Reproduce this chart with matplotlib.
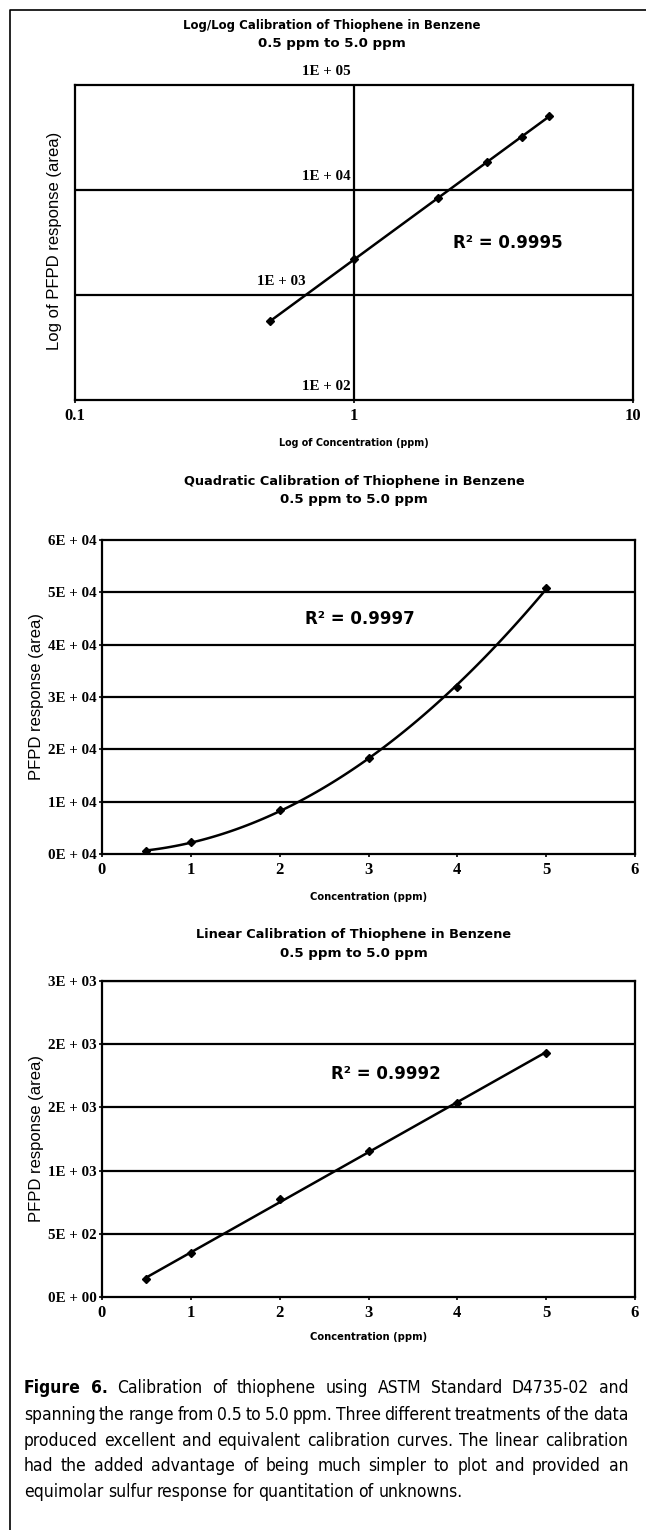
import numpy as np
import matplotlib.pyplot as plt
from matplotlib import font_manager
from matplotlib.lines import Line2D

# page size in pixels (saved at dpi=100)
W, H = 646, 1530

# thiophene standards (ppm) and PFPD peak areas
conc = [0.5, 1, 2, 3, 4, 5]
area_quad = [560, 2200, 8400, 18300, 32000, 50800]
area_log = [560, 2200, 8400, 18300, 32000, 50800]
area_lin = [142, 345, 775, 1155, 1535, 1930]

r2_log = 0.9995
r2_quad = 0.9997
r2_lin = 0.9992

log_xticks = [0.1, 1, 10]
log_xlabels = ["0.1", "1", "10"]
log_yvals = [1e2, 1e3, 1e4, 1e5]
log_ylabels = ["1E + 02", "1E + 03", "1E + 04", "1E + 05"]

quad_yticks = [0, 1e4, 2e4, 3e4, 4e4, 5e4, 6e4]
quad_ylabels = ["0E + 04", "1E + 04", "2E + 04", "3E + 04", "4E + 04", "5E + 04", "6E + 04"]

lin_yticks = [0, 500, 1000, 1500, 2000, 2500]
lin_ylabels = ["0E + 00", "5E + 02", "1E + 03", "2E + 03", "2E + 03", "3E + 03"]

lin_xticks = [0, 1, 2, 3, 4, 5, 6]

caption = [
    "Figure 6. Calibration of thiophene using ASTM Standard D4735-02 and",
    "spanning the range from 0.5 to 5.0 ppm. Three different treatments of the data",
    "produced excellent and equivalent calibration curves. The linear calibration",
    "had the added advantage of being much simpler to plot and provided an",
    "equimolar sulfur response for quantitation of unknowns.",
]

SERIF = "Liberation Serif"
SANS = "Liberation Sans"
HEAD = "DejaVu Sans"

# a condensed sans for the caption if one is installed
cap_font = dict(family="Liberation Sans")
for f in font_manager.fontManager.ttflist:
    if f.stretch in ("condensed", "semi-condensed") or "Narrow" in f.name or "Condensed" in f.name:
        cap_font = dict(family=f.name, stretch=f.stretch)
        break


def rect(left, right, top, bottom):
    return [left / W, 1 - bottom / H, (right - left) / W, (bottom - top) / H]


def frame(ax):
    for s in ax.spines.values():
        s.set_linewidth(1.6)
        s.set_color("black")
    ax.tick_params(length=2.5, width=1.2, color="black", pad=1.5)


def titles(fig, xc, y1, y2, title, size):
    fig.text(xc / W, 1 - y1 / H, title, ha="center", va="center",
             fontsize=size, weight="bold", family=HEAD)
    fig.text(xc / W, 1 - y2 / H, "0.5 ppm to 5.0 ppm", ha="center", va="center",
             fontsize=9.6, weight="bold", family=HEAD)


fig = plt.figure(figsize=(W / 100, H / 100), dpi=100)

# page border (left and top edges)
fig.add_artist(Line2D([10 / W, 10 / W, 1], [0, 1 - 10 / H, 1 - 10 / H], color="black", lw=1.2))

xf = np.linspace(min(conc), max(conc), 100)

# ---- Log/Log calibration ----
ax1 = fig.add_axes(rect(75, 633, 85, 400))
ax1.set_xscale("log")
ax1.set_yscale("log")
ax1.set_xlim(0.1, 10)
ax1.set_ylim(1e2, 1e5)
frame(ax1)
for v in log_yvals[1:-1]:
    ax1.axhline(v, color="black", lw=1.6)
ax1.axvline(1, color="black", lw=1.6)
ax1.set_xticks(log_xticks)
ax1.set_xticklabels(log_xlabels, family=SERIF, weight="bold", fontsize=12)
ax1.minorticks_off()
ax1.set_yticks([])
ax1.tick_params(axis="x", pad=3)
for v, lab in zip(log_yvals, log_ylabels):
    # labels sit on the x = 1 axis, just above each decade line
    xpos = 0.67 if v == 1e3 else 0.975
    ax1.text(xpos, v * 1.33, lab, ha="right", va="center", family=SERIF,
             weight="bold", fontsize=10.8, clip_on=False)
k, b = np.polyfit(np.log10(conc), np.log10(area_log), 1)
ax1.plot(xf, 10 ** (k * np.log10(xf) + b), color="black", lw=1.8)
ax1.plot(conc, area_log, "D", color="black", ms=4)
ax1.text(0.775, 0.5, f"R\u00b2 = {r2_log}", transform=ax1.transAxes, ha="center", va="center",
         fontsize=12, weight="bold", family=HEAD)
ax1.set_xlabel("Log of Concentration (ppm)", fontsize=6.9, weight="bold", family=HEAD, labelpad=10)
fig.text(55 / W, 1 - 241 / H, "Log of PFPD response (area)", rotation=90, ha="center", va="center",
         fontsize=12, family=SANS)
titles(fig, 332, 25, 43, "Log/Log Calibration of Thiophene in Benzene", 8.5)

# ---- Quadratic calibration ----
ax2 = fig.add_axes(rect(102, 635, 540, 854))
ax2.set_xlim(0, 6)
ax2.set_ylim(0, 6e4)
frame(ax2)
ax2.set_yticks(quad_yticks)
ax2.set_yticklabels(quad_ylabels, family=SERIF, weight="bold", fontsize=10.8)
ax2.set_xticks(lin_xticks)
ax2.set_xticklabels([str(t) for t in lin_xticks], family=SERIF, weight="bold", fontsize=12)
ax2.tick_params(axis="x", pad=3)
for v in quad_yticks[1:-1]:
    ax2.axhline(v, color="black", lw=1.6)
c2 = np.polyfit(conc, area_quad, 2)
ax2.plot(xf, np.polyval(c2, xf), color="black", lw=1.8)
ax2.plot(conc, area_quad, "D", color="black", ms=4)
ax2.text(2.9, 4.5e4, f"R\u00b2 = {r2_quad}", ha="center", va="center",
         fontsize=12, weight="bold", family=HEAD)
ax2.set_xlabel("Concentration (ppm)", fontsize=7.2, weight="bold", family=HEAD, labelpad=10)
fig.text(37 / W, 1 - 697 / H, "PFPD response (area)", rotation=90, ha="center", va="center",
         fontsize=12, family=SANS)
titles(fig, 354, 482, 500, "Quadratic Calibration of Thiophene in Benzene", 9.3)

# ---- Linear calibration ----
ax3 = fig.add_axes(rect(102, 635, 981, 1297))
ax3.set_xlim(0, 6)
ax3.set_ylim(0, 2500)
frame(ax3)
ax3.set_yticks(lin_yticks)
ax3.set_yticklabels(lin_ylabels, family=SERIF, weight="bold", fontsize=10.8)
ax3.set_xticks(lin_xticks)
ax3.set_xticklabels([str(t) for t in lin_xticks], family=SERIF, weight="bold", fontsize=12)
ax3.tick_params(axis="x", pad=3)
for v in lin_yticks[1:]:
    ax3.axhline(v, color="black", lw=1.6)
c3 = np.polyfit(conc, area_lin, 1)
ax3.plot(xf, np.polyval(c3, xf), color="black", lw=1.8)
ax3.plot(conc, area_lin, "D", color="black", ms=4)
ax3.text(3.2, 1764, f"R\u00b2 = {r2_lin}", ha="center", va="center",
         fontsize=12, weight="bold", family=HEAD)
ax3.set_xlabel("Concentration (ppm)", fontsize=7.2, weight="bold", family=HEAD, labelpad=8)
fig.text(37 / W, 1 - 1139 / H, "PFPD response (area)", rotation=90, ha="center", va="center",
         fontsize=12, family=SANS)
titles(fig, 354, 934, 954, "Linear Calibration of Thiophene in Benzene", 9.3)

# ---- caption, justified between fixed margins ----
renderer = fig.canvas.get_renderer()
x_left, x_right = 24, 628
line_y = [1393, 1420, 1446, 1471, 1497]
rows = []
for i, (line, yb) in enumerate(zip(caption, line_y)):
    row = []
    for j, w in enumerate(line.split(" ")):
        bold = i == 0 and j < 2
        row.append(fig.text(0, 1 - yb / H, w, weight="bold" if bold else "normal",
                            va="baseline", ha="left", **cap_font))
    rows.append(row)

# largest size at which every justified line keeps a word gap of at least 2.5 px
size = 15
while size > 8:
    for row in rows:
        for t in row:
            t.set_fontsize(size)
    fits = all(sum(t.get_window_extent(renderer).width for t in row) + 2.5 * (len(row) - 1)
               <= x_right - x_left for row in rows[:-1])
    if fits:
        break
    size -= 0.25

for i, row in enumerate(rows):
    widths = [t.get_window_extent(renderer).width for t in row]
    if i < len(rows) - 1:
        gap = (x_right - x_left - sum(widths)) / (len(row) - 1)
    else:
        gap = size * 0.26 * 100 / 72
    x = x_left
    for t, w in zip(row, widths):
        t.set_x(x / W)
        x += w + gap

fig.savefig("out.png", dpi=100)
